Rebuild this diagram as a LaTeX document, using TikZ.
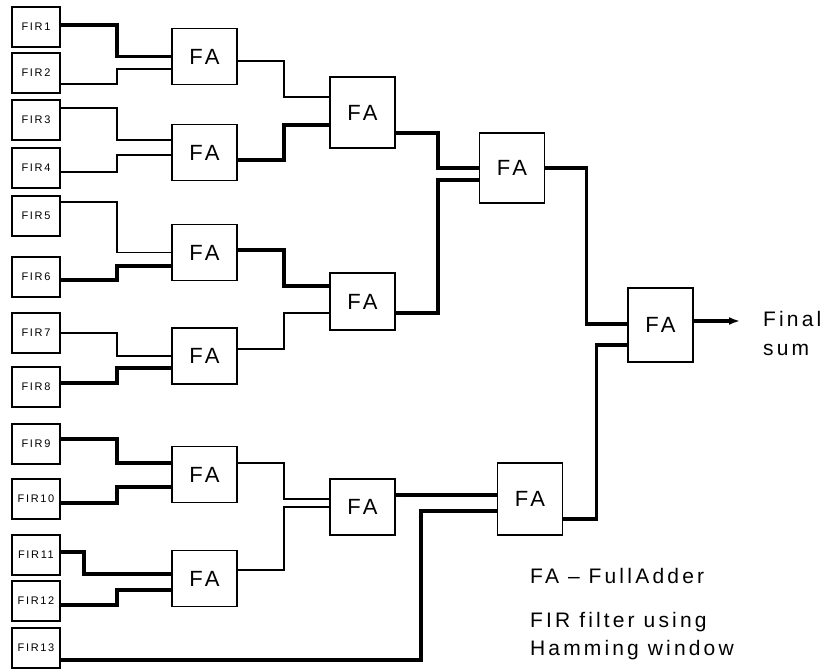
\documentclass[tikz,border=0pt]{standalone}
\usepackage{fontspec}
\setmainfont{Liberation Sans}[LetterSpace=15]
\usetikzlibrary{arrows.meta}
\tikzset{
  firbox/.style={draw,line width=1.8pt,minimum width=48pt,minimum height=40pt,inner sep=0pt,font=\fontsize{11}{13}\selectfont},
  fabox/.style={draw,line width=1.8pt,minimum width=65pt,inner sep=0pt,font=\fontsize{22}{26}\selectfont},
  wire/.style={line width=1.8pt},
  bus/.style={line width=3.8pt},
  legend/.style={anchor=base west,inner sep=0pt,font=\fontsize{21}{25}\selectfont}
}

\begin{document}
\begin{tikzpicture}[x=1pt,y=-1pt]
\path[use as bounding box,fill=white] (0,0) rectangle (821,669);
\foreach \y [count=\i] in {27,73,120,168,216,277,333,387,444,499,555,601,648}
  \node[firbox] (fir\i) at (36,\y) {FIR\i};
\node[fabox,minimum height=56pt] (fa1) at (204.5,56.5) {FA};
\node[fabox,minimum height=56pt] (fa2) at (204.5,152.5) {FA};
\node[fabox,minimum height=56pt] (fa3) at (204.5,252.5) {FA};
\node[fabox,minimum height=56pt] (fa4) at (204.5,356) {FA};
\node[fabox,minimum height=56pt] (fa5) at (204.5,474.5) {FA};
\node[fabox,minimum height=56pt] (fa6) at (204.5,578.5) {FA};
\node[fabox,minimum height=71pt] (fb1) at (362.5,112.5) {FA};
\node[fabox,minimum height=57pt] (fb2) at (362.5,301.5) {FA};
\node[fabox,minimum height=56pt] (fb3) at (362.5,507) {FA};
\node[fabox,minimum height=70pt] (fc1) at (512,168) {FA};
\node[fabox,minimum height=72pt] (fc2) at (530,499) {FA};
\node[fabox,minimum height=74pt] (fd) at (660.5,325) {FA};
\draw[bus] ([yshift=2pt]fir1.east) -- ++(56,0) |- (fa1.west);
\draw[wire] ([yshift=-11pt]fir2.east) -- ++(56,0) |- ([yshift=-12.5pt]fa1.west);
\draw[wire] ([yshift=12pt]fir3.east) -- ++(56,0) |- ([yshift=12.5pt]fa2.west);
\draw[wire] ([yshift=-4pt]fir4.east) -- ++(56,0) |- ([yshift=-2.5pt]fa2.west);
\draw[wire] ([yshift=14pt]fir5.east) -- ++(56,0) |- (fa3.west);
\draw[bus] ([yshift=-3pt]fir6.east) -- ++(56,0) |- ([yshift=-13.5pt]fa3.west);
\draw[wire] (fir7.east) -- ++(56,0) |- (fa4.west);
\draw[bus] ([yshift=4pt]fir8.east) -- ++(56,0) |- ([yshift=-12pt]fa4.west);
\draw[bus] ([yshift=5pt]fir9.east) -- ++(56,0) |- ([yshift=11.5pt]fa5.west);
\draw[bus] ([yshift=-4pt]fir10.east) -- ++(56,0) |- ([yshift=-12.5pt]fa5.west);
\draw[bus] ([yshift=3pt]fir11.east) -- ++(23,0) |- ([yshift=4.5pt]fa6.west);
\draw[bus] ([yshift=-4pt]fir12.east) -- ++(56,0) |- ([yshift=-11.5pt]fa6.west);
\draw[bus] ([yshift=-12pt]fir13.east) -- ++(360,0) |- ([yshift=-12pt]fc2.west);
\draw[wire] ([yshift=-4.5pt]fa1.east) -- ++(46,0) |- ([yshift=15.5pt]fb1.west);
\draw[bus] ([yshift=-7.5pt]fa2.east) -- ++(46,0) |- ([yshift=-12.5pt]fb1.west);
\draw[bus] ([yshift=2.5pt]fa3.east) -- ++(46,0) |- ([yshift=15.5pt]fb2.west);
\draw[wire] ([yshift=7pt]fa4.east) -- ++(46,0) |- ([yshift=-11.5pt]fb2.west);
\draw[wire] ([yshift=11.5pt]fa5.east) -- ++(46,0) |- ([yshift=8pt]fb3.west);
\draw[wire] ([yshift=8.5pt]fa6.east) -- ++(46,0) |- (fb3.west);
\draw[bus] ([yshift=-20.5pt]fb1.east) -- ++(42,0) |- (fc1.west);
\draw[bus] ([yshift=-11.5pt]fb2.east) -- ++(42,0) |- ([yshift=-12pt]fc1.west);
\draw[bus] ([yshift=12pt]fb3.east) -- ([yshift=4pt]fc2.west);
\draw[bus] (fc1.east) -- ++(41,0) |- ([yshift=1pt]fd.west);
\draw[bus] ([yshift=-20pt]fc2.east) -- ++(33,0) |- ([yshift=-20pt]fd.west);
\coordinate (tip) at (740,321);
\draw[bus,-{Latex[length=11pt,width=8pt]}] ([yshift=4pt]fd.east) -- (tip);
\node[legend] (sum1) at (763,326) {Final};
\node[legend] (sum2) at (763,355) {sum};
\node[legend] (key1) at (530,583) {FA – Full\,Adder};
\node[legend] (key2) at (530,627) {FIR filter using};
\node[legend] (key3) at (530,655) {Hamming window};
\end{tikzpicture}
\end{document}
